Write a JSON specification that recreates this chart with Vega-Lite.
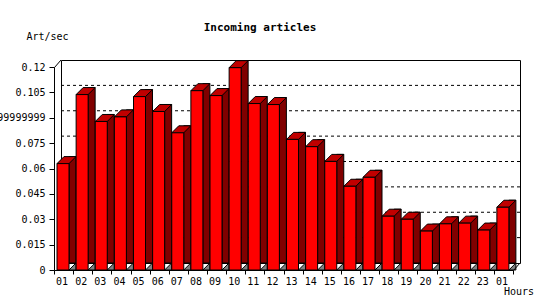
{
  "$schema": "https://vega.github.io/schema/vega-lite/v6.json",
  "width": 459,
  "height": 203,
  "autosize": {"type": "none"},
  "padding": {"left": 61, "top": 60, "right": 30, "bottom": 37},
  "background": "white",
  "title": {"text": "Incoming articles", "anchor": "middle", "frame": "group", "dx": -30.5, "offset": -14, "baseline": "middle", "font": "DejaVu Sans Mono", "fontSize": 11, "fontWeight": "bold", "color": "black"},
  "config": {"view": {"stroke": "black", "strokeWidth": 1, "fill": "white"}, "font": "DejaVu Sans Mono", "axis": {"labelOverlap": false}, "axisY": {"labelOverlap": false}},
  "data": {"values": [
    {"slot": 1, "hour": "01", "rate": 0.0629},
    {"slot": 2, "hour": "02", "rate": 0.1037},
    {"slot": 3, "hour": "03", "rate": 0.0878},
    {"slot": 4, "hour": "04", "rate": 0.0905},
    {"slot": 5, "hour": "05", "rate": 0.1025},
    {"slot": 6, "hour": "06", "rate": 0.0937},
    {"slot": 7, "hour": "07", "rate": 0.0811},
    {"slot": 8, "hour": "08", "rate": 0.106},
    {"slot": 9, "hour": "09", "rate": 0.1031},
    {"slot": 10, "hour": "10", "rate": 0.1196},
    {"slot": 11, "hour": "11", "rate": 0.0984},
    {"slot": 12, "hour": "12", "rate": 0.0978},
    {"slot": 13, "hour": "13", "rate": 0.0772},
    {"slot": 14, "hour": "14", "rate": 0.0729},
    {"slot": 15, "hour": "15", "rate": 0.0642},
    {"slot": 16, "hour": "16", "rate": 0.0495},
    {"slot": 17, "hour": "17", "rate": 0.0548},
    {"slot": 18, "hour": "18", "rate": 0.0318},
    {"slot": 19, "hour": "19", "rate": 0.03},
    {"slot": 20, "hour": "20", "rate": 0.023},
    {"slot": 21, "hour": "21", "rate": 0.0273},
    {"slot": 22, "hour": "22", "rate": 0.0277},
    {"slot": 23, "hour": "23", "rate": 0.0236},
    {"slot": 24, "hour": "01", "rate": 0.0371}
  ]},
  "layer": [
    {
      "data": {"values": [{"rate": 0.015}, {"rate": 0.03}, {"rate": 0.045}, {"rate": 0.06}, {"rate": 0.075}, {"rate": 0.09}, {"rate": 0.105}]},
      "mark": {"type": "rule", "color": "black", "strokeWidth": 1, "strokeDash": [3, 3]},
      "encoding": {
        "y": {"field": "rate", "type": "quantitative",
          "scale": {"domain": [0, 0.12], "nice": false, "zero": true},
          "axis": {"title": "Art/sec", "values": [0, 0.015, 0.03, 0.045, 0.06, 0.075, 0.09, 0.105, 0.12], "tickCount": 20,
            "labelExpr": "abs(datum.value - 0.09) < 0.000001 ? '0.0899999999' : '' + datum.value",
            "grid": false, "offset": 14, "translate": 7.5, "domainColor": "black", "tickColor": "black", "tickSize": 5,
            "labelPadding": 4, "labelFont": "DejaVu Sans Mono", "labelFontSize": 10, "labelColor": "black",
            "labelFlush": false, "labelOverlap": false, "labelBound": false,
            "titleAngle": 0, "titleX": -7, "titleY": -30.5, "titleAlign": "center", "titleBaseline": "middle",
            "titleFont": "DejaVu Sans Mono", "titleFontSize": 10, "titleFontWeight": "normal", "titleColor": "black"}}
      }
    },
    {
      "mark": {"type": "bar", "width": 7, "xOffset": 1.94, "y2Offset": 7, "fill": "#800000", "stroke": "black", "strokeWidth": 1},
      "encoding": {
        "x": {"field": "slot", "type": "ordinal",
          "scale": {"type": "band", "paddingInner": 0, "paddingOuter": 0},
          "axis": {"title": "Hours", "labelExpr": "isValid(datum.value) ? (datum.value == 24 ? '01' : (datum.value < 10 ? '0' + datum.value : '' + datum.value)) : ''",
            "tickBand": "extent", "offset": 14, "translate": -6.5, "tickSize": 4, "labelPadding": 2, "labelOffset": -2, "labelAngle": 0,
            "domainColor": "black", "tickColor": "black", "labelColor": "black", "labelFont": "DejaVu Sans Mono", "labelFontSize": 10,
            "grid": false,
            "titleX": 464.5, "titleY": 21.5, "titleAlign": "center", "titleBaseline": "middle",
            "titleFont": "DejaVu Sans Mono", "titleFontSize": 10, "titleFontWeight": "normal", "titleColor": "black"}},
        "y": {"field": "rate", "type": "quantitative"}
      }
    },
    {
      "mark": {"type": "point", "shape": "M-1.56,7L5.44,7L5.44,0Z", "size": 4, "filled": true, "fill": "#808080", "stroke": "black", "strokeWidth": 1, "opacity": 1},
      "encoding": {
        "x": {"field": "slot", "type": "ordinal"},
        "y": {"datum": 0, "type": "quantitative"}
      }
    },
    {
      "mark": {"type": "point", "shape": "M-13.56,7L-1.56,7L5.44,0L-6.56,0Z", "size": 4, "filled": true, "fill": "#c00000", "stroke": "black", "strokeWidth": 1, "opacity": 1},
      "encoding": {
        "x": {"field": "slot", "type": "ordinal"},
        "y": {"field": "rate", "type": "quantitative"}
      }
    },
    {
      "mark": {"type": "bar", "width": 12, "xOffset": -7.56, "yOffset": 7, "y2Offset": 7, "fill": "#ff0000", "stroke": "black", "strokeWidth": 1},
      "encoding": {
        "x": {"field": "slot", "type": "ordinal"},
        "y": {"field": "rate", "type": "quantitative"}
      }
    },
    {
      "data": {"values": [{}]},
      "mark": {"type": "point", "shape": "M-16.06,7.5L-9.56,0", "size": 4, "filled": false, "stroke": "black", "strokeWidth": 1, "opacity": 1},
      "encoding": {
        "x": {"datum": 1, "type": "ordinal"},
        "y": {"datum": 0.12, "type": "quantitative"}
      }
    },
    {
      "data": {"values": [{}]},
      "mark": {"type": "point", "shape": "M3.06,7.5L9.56,0", "size": 4, "filled": false, "stroke": "black", "strokeWidth": 1, "opacity": 1},
      "encoding": {
        "x": {"datum": 24, "type": "ordinal"},
        "y": {"datum": 0, "type": "quantitative"}
      }
    }
  ]
}
